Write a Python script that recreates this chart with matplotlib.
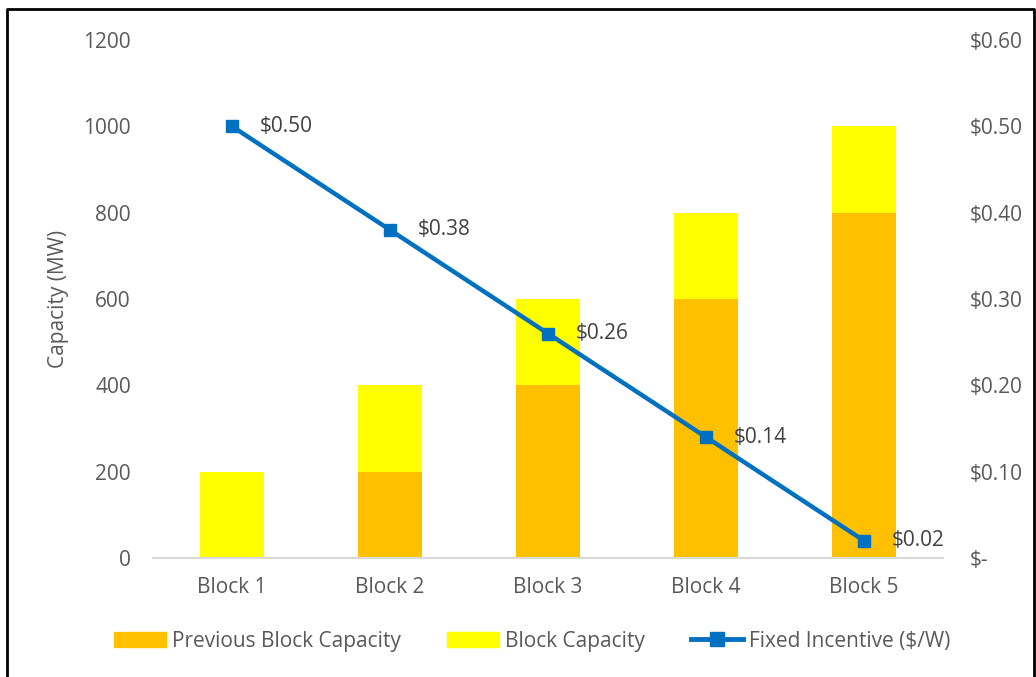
"""
Block capacity vs fixed incentive - stacked bars with incentive line
"""

import matplotlib.pyplot as plt
from matplotlib.lines import Line2D
import numpy as np

blocks = ['Block 1', 'Block 2', 'Block 3', 'Block 4', 'Block 5']
previous_capacity = [0, 200, 400, 600, 800]
block_capacity = [200, 200, 200, 200, 200]
incentive = [0.50, 0.38, 0.26, 0.14, 0.02]

left_ticks = [0, 200, 400, 600, 800, 1000, 1200]
right_ticks = [0.0, 0.1, 0.2, 0.3, 0.4, 0.5, 0.6]
right_labels = ['$-', '$0.10', '$0.20', '$0.30', '$0.40', '$0.50', '$0.60']

ORANGE = '#FFC000'
YELLOW = '#FFFF00'
BLUE = '#0070C0'
GREY = '#595959'

plt.rcParams['font.family'] = ['Open Sans', 'DejaVu Sans']
plt.rcParams['font.size'] = 15

fig = plt.figure(figsize=(10.36, 6.77), dpi=100)
ax = fig.add_axes([153 / 1036, 1 - 558 / 677, (943 - 153) / 1036, (558 - 40) / 677])
ax2 = ax.twinx()

x = np.arange(len(blocks))
ax.bar(x, previous_capacity, width=0.4, color=ORANGE, label='Previous Block Capacity')
ax.bar(x, block_capacity, width=0.4, bottom=previous_capacity, color=YELLOW, label='Block Capacity')

ax2.plot(x, incentive, color=BLUE, lw=3.2, marker='s', ms=8, label='Fixed Incentive ($/W)')
for xi, v in zip(x, incentive):
    ax2.annotate(f'${v:.2f}', (xi, v), xytext=(20, 0), textcoords='offset points',
                 ha='left', va='center', color='#404040')

ax.set_xlim(-0.5, 4.5)
ax.set_ylim(0, 1200)
ax2.set_ylim(0, 0.6)
ax.set_yticks(left_ticks)
ax2.set_yticks(right_ticks)
ax2.set_yticklabels(right_labels)
ax.set_xticks(x)
ax.set_xticklabels(blocks)

for a in (ax, ax2):
    for s in a.spines.values():
        s.set_visible(False)
    a.tick_params(length=0, colors=GREY)
ax.spines['bottom'].set_visible(True)
ax.spines['bottom'].set_color('#D9D9D9')
ax.spines['bottom'].set_linewidth(1.5)
ax.tick_params(axis='y', pad=16)
ax.tick_params(axis='x', pad=14)
ax2.tick_params(axis='y', pad=19)

ax.set_ylabel('Capacity (MW)', color=GREY, labelpad=10)

handles = [plt.Rectangle((0, 0), 1, 1, color=ORANGE),
           plt.Rectangle((0, 0), 1, 1, color=YELLOW),
           Line2D([], [], color=BLUE, lw=3.5, marker='s', ms=10)]
labels = ['Previous Block Capacity', 'Block Capacity', 'Fixed Incentive ($/W)']
fig.legend(handles, labels, loc='center', bbox_to_anchor=(532 / 1036, 1 - 641 / 677),
           ncol=3, frameon=False, handlelength=2.5, handleheight=0.75,
           handletextpad=0.3, columnspacing=2.2, labelcolor=GREY)

# outer border (left, top, right)
fig.add_artist(Line2D([7 / 1036, 7 / 1036, 1034 / 1036, 1034 / 1036],
                      [0, 1 - 9 / 677, 1 - 9 / 677, 0],
                      transform=fig.transFigure, color='black', lw=2))

fig.savefig('out.png', dpi=100)
